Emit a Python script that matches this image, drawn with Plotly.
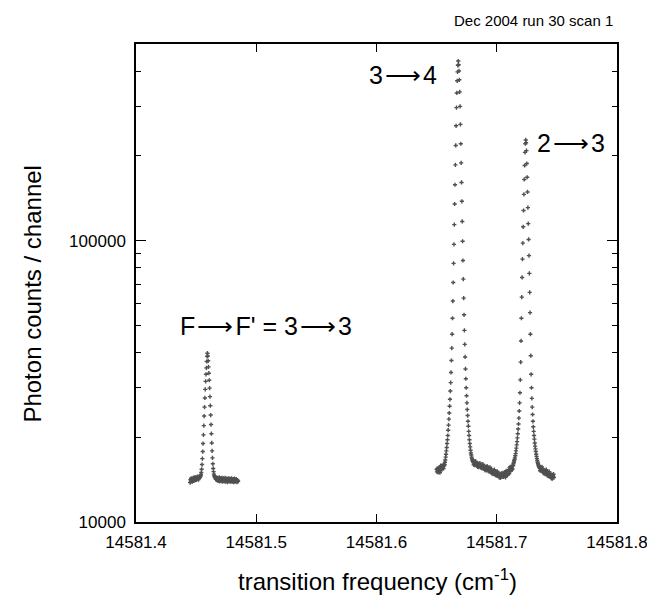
import plotly.graph_objects as go

# ---- data ----
# channel grids (frequency, cm^-1): start and channel step
x1_start, x2_start, x_step = 14581.445, 14581.650, 0.0003

# segment 1: F=3 -> F'=3 line (photon counts per channel)
y1 = [13800, 14150, 13950, 14300, 14050, 14200, 13900, 14250, 14100, 14350,
      14000, 14200, 14400, 14050, 14250, 14150, 14450, 14100, 14300, 14200,
      14500, 14250, 14350, 14150, 14450, 14300, 14550, 14400,
      14500, 14600, 14750, 15000, 15400, 16000, 16800, 17800, 19000, 20400,
      22000, 23800, 25600, 27600, 29600, 31600, 33500, 35300, 37200, 38800,
      39800,
      38900, 37400, 35600, 33800, 31900, 29900, 27900, 25900, 24000, 22200,
      20600, 19100, 17900, 16900, 16100, 15500, 15100, 14800, 14600,
      14500, 14350, 14450, 14200, 14400, 14150, 14300, 14050, 14350, 14200,
      14000, 14300, 14150, 14400, 13950, 14250, 14100, 14300, 14000, 14200,
      14350, 13900, 14150, 14250, 14050, 14300, 13950, 14200, 14100, 14350,
      13900, 14150, 14000, 14250, 14100, 13850, 14200, 14050, 14300, 13950,
      14150, 14000, 14250, 13900, 14100, 14200, 13950, 14300, 14050, 13900,
      14150, 14000, 14200, 13850, 14100, 14250, 13950, 14050, 14150, 13900,
      14200, 14000, 13850, 14100, 14000, 13950]

# segment 2: 3 -> 4 and 2 -> 3 lines
y2 = [15370, 15070, 15510, 15190, 15010, 15330, 15550, 15130, 15270, 14970,
      15560, 15860, 15400, 15690, 15820, 15350, 15760, 15620, 15890, 15500,
      16000, 15850,
      16000, 16300, 16600, 17000, 17400, 17900, 18400, 19000, 19600, 20300,
      21200, 22100, 23200, 24400, 25800, 27300, 29200, 31300, 34000, 37500,
      41500, 46500, 53000, 61000, 71000, 83000, 97000, 114000, 135000, 158000,
      186000, 218000, 256000, 297000, 335000, 370000, 398000, 420000,
      435000,
      422000, 401000, 373000, 338000, 300000, 259000, 221000, 189000, 161000, 138000,
      117000, 99500, 85000, 73000, 62500, 54500, 48000, 42800, 38600, 35000,
      32300, 30000, 28100, 26500, 25100, 23900, 22800, 21900, 21000, 20300,
      19600, 19000, 18500, 18000, 17600, 17300, 17000, 16800, 16600, 16500,
      16400,
      16270, 15970, 16410, 16090, 15910, 16230, 16450, 16030, 16170, 15870,
      15860, 16160, 15700, 15990, 16120, 15650, 16060, 15920, 16190, 15800,
      15870, 15570, 16010, 15690, 15510, 15830, 16050, 15630, 15770, 15470,
      15460, 15760, 15300, 15590, 15720, 15250, 15660, 15520, 15790, 15400,
      15470, 15170, 15610, 15290, 15110, 15430, 15650, 15230, 15370, 15070,
      15010, 15310, 14850, 15140, 15270, 14800, 15210, 15070, 15340, 14950,
      14970, 14670, 15110, 14790, 14610, 14930, 15150, 14730, 14870, 14570,
      14560, 14860, 14400, 14690, 14820, 14350, 14760, 14620, 14890, 14500,
      14820, 14520, 14960, 14640, 14460, 14780, 15000, 14580, 14720, 14420,
      14910, 15210, 14750, 15040, 15170, 14700, 15110, 14970, 15240, 14850,
      15570, 15270, 15710, 15390, 15210, 15530, 15750, 15330, 15470,
      15800, 15900, 16100, 16300, 16500, 16700, 16900, 17200, 17500, 17900,
      18300, 18800, 19300, 19900, 20600, 21400, 22300, 23400, 24800, 26500,
      28800, 32000, 37000, 44000, 53000, 63000, 74000, 86000, 98000, 112000,
      128000, 146000, 165000, 185000, 206000, 221000,
      228000,
      223000, 209000, 188000, 168000, 149000, 131000, 115000, 101000, 88500, 76500,
      65500, 55500, 46500, 39000, 33500, 30000, 27500, 25600, 24100, 22800,
      21800, 21000, 20300, 19700, 19100, 18600, 18200, 17800, 17400, 17100,
      16800, 16550, 16300, 16100, 15950, 15800, 15700, 15600,
      15520, 15220, 15660, 15340, 15160, 15480, 15700, 15280, 15420, 15120,
      15010, 15310, 14850, 15140, 15270, 14800, 15210, 15070, 15340, 14950,
      14920, 14620, 15060, 14740, 14560, 14880, 15100, 14680, 14820, 14520,
      14460, 14760, 14300, 14590, 14720, 14250, 14660, 14520, 14790, 14400]

x1 = [round(x1_start + x_step * i, 5) for i in range(len(y1))]
x2 = [round(x2_start + x_step * i, 5) for i in range(len(y2))]

x_ticks = [14581.4, 14581.5, 14581.6, 14581.7, 14581.8]
x_tick_labels = ["14581.4", "14581.5", "14581.6", "14581.7", "14581.8"]
y_ticks = [10000, 100000]
y_tick_labels = ["10000", "100000"]
y_minor = [20000, 30000, 40000, 50000, 60000, 70000, 80000, 90000,
           200000, 300000, 400000]

FONT = "Liberation Sans, Arial, Helvetica, sans-serif"
dot = dict(symbol="cross", size=3.5, color="#505050", line=dict(width=0))

fig = go.Figure()
fig.add_trace(go.Scatter(x=x1, y=y1, mode="markers", marker=dot, showlegend=False))
fig.add_trace(go.Scatter(x=x2, y=y2, mode="markers", marker=dot, showlegend=False))

axis_common = dict(showline=True, linecolor="black", linewidth=1.5, mirror="ticks",
                   ticks="inside", tickcolor="black", tickwidth=1,
                   showgrid=False, zeroline=False,
                   tickfont=dict(family=FONT, size=17, color="black"))

fig.update_xaxes(range=[14581.4, 14581.8], tickvals=x_ticks, ticktext=x_tick_labels,
                 ticklen=8, ticklabelstandoff=4, **axis_common)
fig.update_yaxes(type="log", range=[4, 5.69897], tickvals=y_ticks, ticktext=y_tick_labels,
                 ticklen=10, ticklabelstandoff=5,
                 minor=dict(tickvals=y_minor, ticklen=5, ticks="inside",
                            tickcolor="black", tickwidth=1, showgrid=False),
                 **axis_common)

ann_font = dict(family=FONT, size=25, color="black")
ARROW = "\u200a\u27f6\u200a"
annotations = [
    dict(text="3" + ARROW + "4", x=0.555, y=0.935, font=ann_font),
    dict(text="2" + ARROW + "3", x=0.905, y=0.793, font=ann_font),
    dict(text="F" + ARROW + "F' = 3" + ARROW + "3", x=0.270, y=0.410, font=ann_font),
    dict(text="Dec 2004 run 30 scan 1", x=0.995, y=1.050, xanchor="right",
         font=dict(family=FONT, size=15, color="black")),
    dict(text="transition frequency (cm<sup>-1</sup>)", x=0.503, y=-0.121,
         font=dict(family=FONT, size=24, color="black")),
    dict(text="Photon counts / channel", x=-0.215, y=0.477, textangle=-90,
         font=dict(family=FONT, size=24, color="black")),
]
for a in annotations:
    a.setdefault("xanchor", "center")
    a.update(xref="paper", yref="paper", yanchor="middle", showarrow=False)

fig.update_layout(width=655, height=601, autosize=False,
                  margin=dict(l=128, r=46, t=36, b=87),
                  paper_bgcolor="white", plot_bgcolor="white",
                  annotations=annotations)

fig.write_html("out.html")
